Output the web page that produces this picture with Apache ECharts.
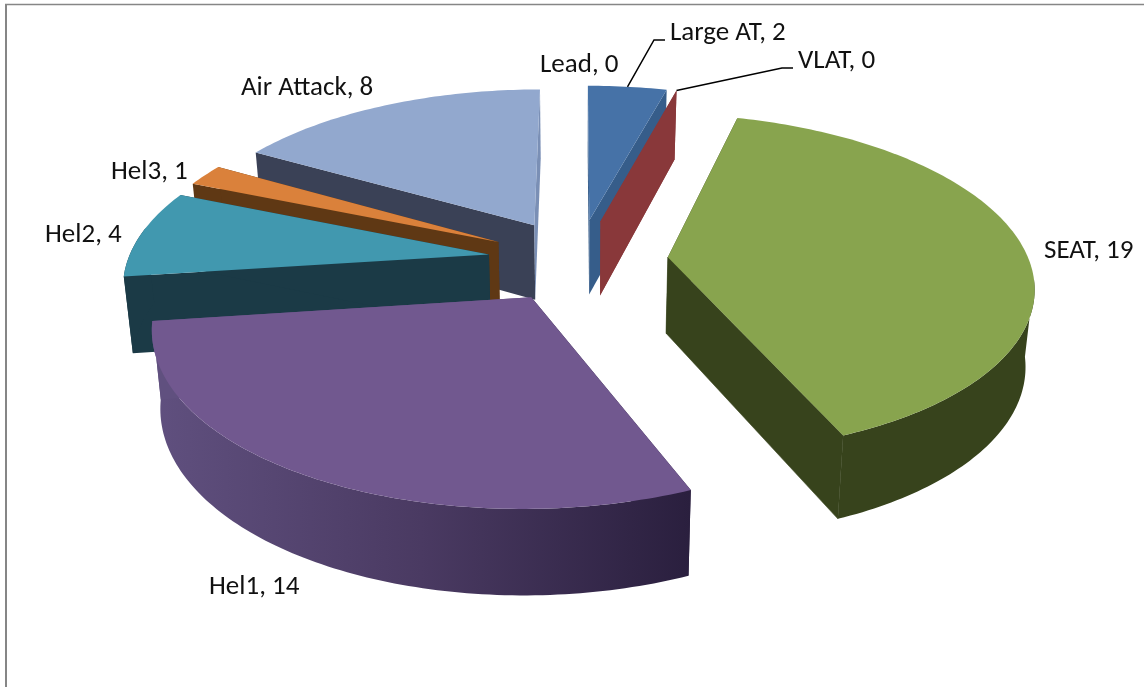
<!DOCTYPE html>
<html>
<head>
<meta charset="utf-8">
<style>html,body{margin:0;padding:0;background:#fff}#c{width:1144px;height:687px}</style>
<script src="https://cdn.jsdelivr.net/npm/echarts@6/dist/echarts.min.js"></script>
</head>
<body>
<div id="c"></div>
<script>
// data
var categories = ['Lead', 'Large AT', 'VLAT', 'SEAT', 'Hel1', 'Hel2', 'Hel3', 'Air Attack'];
var values = [0, 2, 0, 19, 14, 4, 1, 8];

// styles
var topColors = ['#4572A7', '#4672A7', '#89383A', '#88A44E', '#71588F', '#4198AF', '#DA813B', '#92A8CE'];
var sideColors = ['#365D8A', '#365D8A', '#89383A', '#37431C', '#2C2040', '#1B3A46', '#5F3814', '#3A4156'];
var endColors = ['#365D8A', '#365D8A', '#89383A', '#37431C', '#60507F', '#1B3A46', '#5F3814', '#7A8FB5'];
var hel1Wall = { type: 'linear', x: 0, y: 0, x2: 1, y2: 0, colorStops: [
  { offset: 0, color: '#60507F' }, { offset: 0.5, color: '#4A3A62' }, { offset: 1, color: '#2A1F3E' }] };
var labelPositions = [[540, 65], [670, 33], [798, 61], [1044, 251], [209, 587], [45, 235], [111, 172], [241, 88]];
var paintOrder = [0, 1, 2, 3, 7, 6, 5, 4];

// projection of the tilted, exploded pie
var CX = 578, CY = 260, R = 361, RY = 166.4, K = 0.1536, EXPLODE = 0.25, WALL = 76, WALL_X = 0.98;
var FRONT_FROM = 97, FRONT_TO = 280;
var total = values.reduce(function (a, b) { return a + b; }, 0);

function persp(X, Y) { return 1 / (1 - K * Y); }
function project(X, Y) {
  var s = persp(X, Y);
  return [CX + R * X * s, CY + RY * Y * s];
}
function lower(X, Y) {
  var s = persp(X, Y), p = project(X, Y);
  return [CX + (p[0] - CX) * WALL_X, p[1] + WALL * (1 + 0.6 * (s - 1))];
}
function sliceFrame(a0, a1) {
  var m = (a0 + a1) / 2 * Math.PI / 180;
  return [EXPLODE * Math.sin(m), -EXPLODE * Math.cos(m)];
}
function disc(o, deg) {
  var t = deg * Math.PI / 180;
  return [o[0] + Math.sin(t), o[1] - Math.cos(t)];
}

var rows = [], acc = 0, spans = values.map(function (v) {
  var a = acc; acc += v * 360 / total; return [a, acc];
});
paintOrder.forEach(function (i) {
  rows.push([categories[i], values[i], spans[i][0], spans[i][1], i]);
});

function renderItem(params, api) {
  var i = api.value(4), a0 = api.value(2), a1 = api.value(3), val = api.value(1), rank = params.dataIndex;
  var o = sliceFrame(a0, a1), topArc = [], lowArc = [], frontTop = [], frontLow = [];
  var n = Math.max(1, Math.ceil(a1 - a0));
  for (var k = 0; k <= n; k++) {
    var deg = a0 + (a1 - a0) * k / n;
    var d = disc(o, deg);
    var t = project(d[0], d[1]), l = lower(d[0], d[1]);
    topArc.push(t);
    lowArc.push(l);
    if (deg >= FRONT_FROM && deg <= FRONT_TO) { frontTop.push(t); frontLow.push(l); }
  }
  var apexT = project(o[0], o[1]), apexL = lower(o[0], o[1]);
  var z = rank * 10;
  var kids = [];
  kids.push({ type: 'polygon', z2: z + 1, shape: { points: [apexT, topArc[0], lowArc[0], apexL] },
    style: { fill: sideColors[i] } });
  if (frontTop.length > 1) {
    kids.push({ type: 'polygon', z2: z + 2, shape: { points: frontTop.concat(frontLow.slice().reverse()) },
      style: { fill: categories[i] === 'Hel1' ? hel1Wall : sideColors[i] } });
  }
  var endStyle = { fill: endColors[i] };
  if (categories[i] === 'SEAT') { endStyle.stroke = endColors[i]; endStyle.lineWidth = 0.6; }
  kids.push({ type: 'polygon', z2: z + 3, shape: { points: [apexT, topArc[n], lowArc[n], apexL] },
    style: endStyle });
  kids.push({ type: 'polygon', z2: z + 4, shape: { points: [apexT].concat(topArc) },
    style: { fill: topColors[i] } });
  var pos = labelPositions[i];
  kids.push({ type: 'text', z2: 200, x: pos[0], y: pos[1],
    style: { text: categories[i] + ', ' + val, x: 0, y: 0, fill: '#111', font: '27px Carlito, Lato, sans-serif',
      textAlign: 'left', textVerticalAlign: 'middle' } });
  if (categories[i] === 'Large AT' || categories[i] === 'VLAT') {
    var mid = disc(o, (a0 + a1) / 2), from = project(mid[0], mid[1]);
    var elbow = [pos[0] - 16, pos[1] + 7];
    var end = [pos[0] - 5, elbow[1]];
    kids.push({ type: 'polyline', z2: 199, shape: { points: [from, elbow, end] },
      style: { stroke: '#000', lineWidth: 1.5, fill: null } });
  }
  return { type: 'group', children: kids };
}

var chart = echarts.init(document.getElementById('c'), null, { renderer: 'canvas' });
chart.setOption({
  backgroundColor: '#fff',
  animation: false,
  graphic: [
    { type: 'line', shape: { x1: 5, y1: 4.5, x2: 1144, y2: 4.5 }, style: { stroke: '#868686', lineWidth: 1.5 } },
    { type: 'line', shape: { x1: 6, y1: 4, x2: 6, y2: 687 }, style: { stroke: '#868686', lineWidth: 2 } }
  ],
  series: [{
    type: 'custom',
    coordinateSystem: 'none',
    renderItem: renderItem,
    data: rows
  }]
});
</script>
</body>
</html>
